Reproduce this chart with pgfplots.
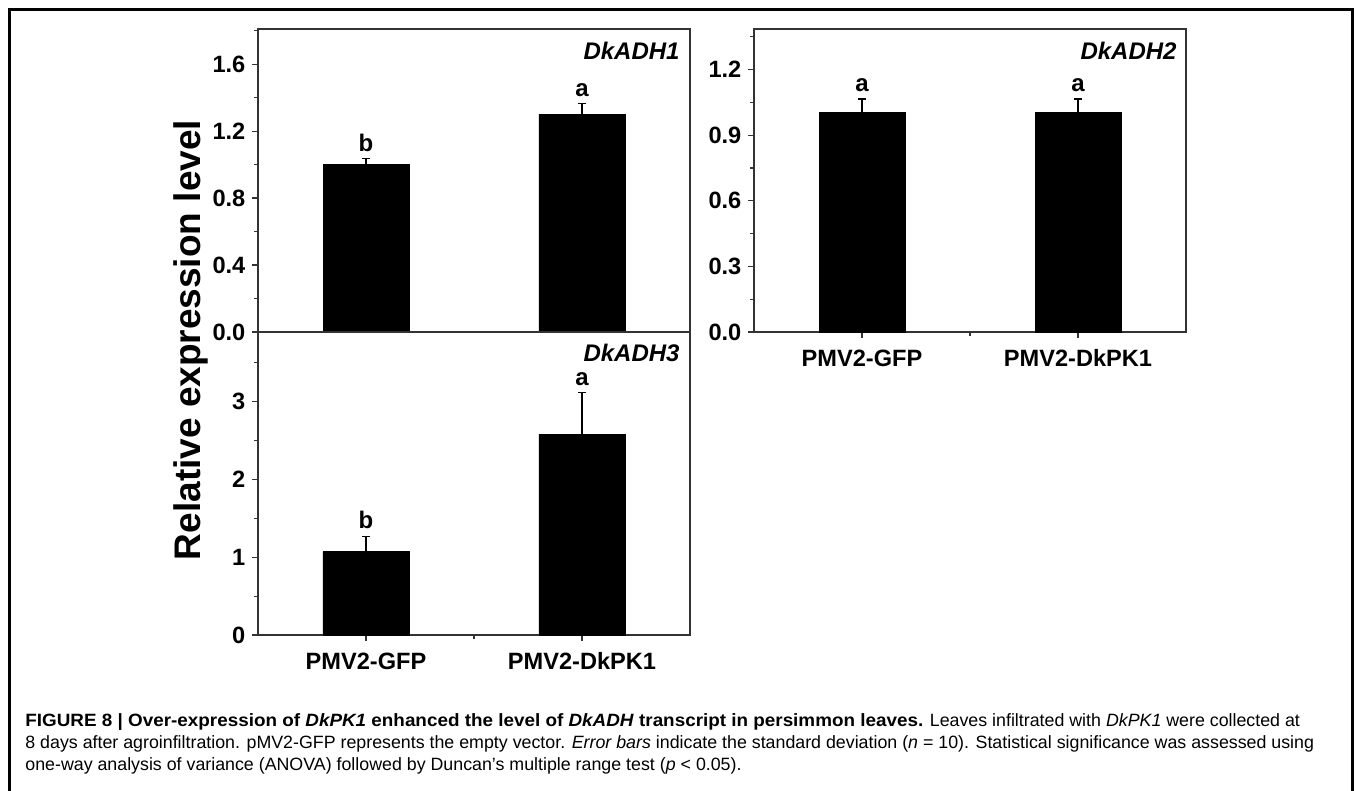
\documentclass[border=0pt]{standalone}
\usepackage{fontspec}
\setmainfont{Liberation Sans}
\usepackage{pgfplots}
\pgfplotsset{compat=1.18}
\usepackage{pgfplotstable}

% bar data: x, value, upper error
\pgfplotstableread{
x y e
1 1.00 0.037
2 1.30 0.065
}\adhone
\pgfplotstableread{
x y e
1 1.005 0.061
2 1.005 0.061
}\adhtwo
\pgfplotstableread{
x y e
1 1.07 0.20
2 2.58 0.54
}\adhthree

\pgfplotsset{
  panel/.style={
    scale only axis, width=216pt, height=151.5pt,
    xmin=0.5, xmax=2.5, ymin=0,
    axis line style={line width=0.7pt, black!80},
    tick style={line width=0.6pt, black!80},
    tick align=outside,
    xtick pos=bottom, ytick pos=left,
    major tick length=2.8pt, minor tick length=2pt,
    ticklabel style={font=\bfseries\fontsize{11.8}{14}\selectfont},
    xticklabel style={yshift=-2.5pt},
    /pgf/number format/assume math mode=true,
    xtick={1,2}, xticklabels={PMV2-GFP,PMV2-DkPK1},
    minor xtick={1.5},
    clip=false,
  },
  onedec/.style={yticklabel style={/pgf/number format/.cd, fixed, fixed zerofill, precision=1}},
  bars/.style={ybar, bar width=43pt, fill=black, draw=black,
    error bars/.cd, y dir=plus, y explicit,
    error bar style={line width=0.6pt, black},
    error mark options={rotate=90, mark size=1.8pt, line width=0.6pt, black}},
}
\tikzset{
  letter/.style={anchor=south, inner sep=0pt, yshift=3.3pt, font=\bfseries\fontsize{12}{14}\selectfont},
  tag/.style={anchor=base east, inner sep=0pt, font=\bfseries\itshape\fontsize{12}{14}\selectfont},
}

\begin{document}
\begin{tikzpicture}

% DkADH1
\begin{axis}[panel, onedec, at={(129pt,-14.5pt)}, anchor=north west,
  ymax=1.81, ytick={0,0.4,0.8,1.2,1.6}, minor ytick={0.2,0.6,1.0,1.4,1.8},
  xtick=\empty, minor xtick=\empty]
\addplot[bars] table[x=x, y=y, y error=e] {\adhone};
\node[letter] at (axis cs:1,1.037) {b};
\node[letter] at (axis cs:2,1.365) {a};
\node[tag, xshift=-5pt, yshift=-15.5pt] at (rel axis cs:1,1) {DkADH1};
\end{axis}

% DkADH3
\begin{axis}[panel, at={(129pt,-166pt)}, anchor=north west,
  ymax=3.895, ytick={0,1,2,3}, minor ytick={0.5,1.5,2.5,3.5}]
\addplot[bars] table[x=x, y=y, y error=e] {\adhthree};
\node[letter] at (axis cs:1,1.27) {b};
\node[letter] at (axis cs:2,3.12) {a};
\node[tag, xshift=-5pt, yshift=-15pt] at (rel axis cs:1,1) {DkADH3};
\end{axis}

% DkADH2
\begin{axis}[panel, onedec, at={(377pt,-14.5pt)}, anchor=north west,
  ymax=1.386, ytick={0,0.3,0.6,0.9,1.2}, minor ytick={0.15,0.45,0.75,1.05,1.35}]
\addplot[bars] table[x=x, y=y, y error=e] {\adhtwo};
\node[letter] at (axis cs:1,1.066) {a};
\node[letter] at (axis cs:2,1.066) {a};
\node[tag, xshift=-4.5pt, yshift=-15.5pt] at (rel axis cs:1,1) {DkADH2};
\end{axis}

\node[rotate=90, anchor=base, font=\bfseries\fontsize{18.5}{22}\selectfont] at (100pt,-170pt) {Relative expression level};

% frame
\draw[line width=1.5pt] (4.75pt,-396pt) -- (4.75pt,-4.75pt) -- (676.25pt,-4.75pt) -- (676.25pt,-396pt);

% caption
\begin{scope}[every node/.style={anchor=base west, inner sep=0pt, font=\fontsize{8.9}{11}\selectfont}]
\node at (12.5pt,-363pt) {{\bfseries\addfontfeatures{FakeStretch=1.06}FIGURE 8 | Over-expression of \textit{DkPK1} enhanced the level of \textit{DkADH} transcript in persimmon leaves.} Leaves infiltrated with \textit{DkPK1} were collected at};
\node at (12.5pt,-374pt) {8 days after agroinfiltration. pMV2-GFP represents the empty vector. \textit{Error bars} indicate the standard deviation (\textit{n} = 10). Statistical significance was assessed using};
\node at (12.5pt,-385pt) {one-way analysis of variance (ANOVA) followed by Duncan’s multiple range test (\textit{p} < 0.05).};
\end{scope}

\pgfresetboundingbox
\useasboundingbox (0,0) rectangle (678.5pt,-395.5pt);
\end{tikzpicture}
\end{document}
